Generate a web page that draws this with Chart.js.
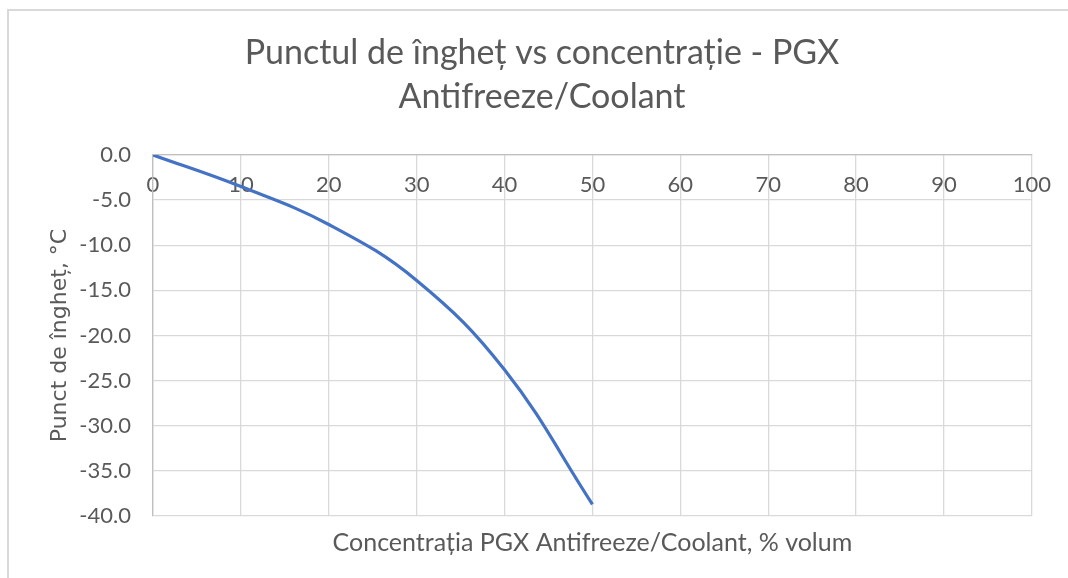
<!DOCTYPE html>
<html>
<head>
<meta charset="utf-8">
<script src="https://cdn.jsdelivr.net/npm/chart.js@4.4.1/dist/chart.umd.min.js"></script>
<style>
  html, body { margin: 0; padding: 0; background: #fff; overflow: hidden; }
  #wrap { position: relative; width: 1068px; height: 578px; }
  #frame {
    position: absolute; left: 7px; top: 9px; right: -10px; bottom: -10px;
    border-left: 2px solid #d9d9d9; border-top: 2px solid #d9d9d9;
  }
  canvas { position: absolute; left: 0; top: 0; }
</style>
</head>
<body>
<div id="wrap">
  <div id="frame"></div>
  <canvas id="myChart" width="1068" height="578"></canvas>
</div>
<script>
// data
let concentration = [0, 10, 20, 30, 40, 50],
  freezePoint = [0, -3.5, -7.7, -13.9, -23.8, -38.7],
  xTickValues = [0, 10, 20, 30, 40, 50, 60, 70, 80, 90, 100],
  yTickValues = [0, -5, -10, -15, -20, -25, -30, -35, -40];

const textColor = "#595959";
const gridColor = "#d9d9d9";
const axisColor = "#bfbfbf";
const narrowFont = "Lato, 'Liberation Sans', sans-serif";

let points = concentration.map((c, i) => ({ x: c, y: freezePoint[i] }));

var ctx = document.getElementById("myChart").getContext("2d");
var myChart = new Chart(ctx, {
  type: "line",
  data: {
    datasets: [
      {
        label: "PGX",
        data: points,
        borderColor: "#4472C4",
        backgroundColor: "#4472C4",
        borderWidth: 3.2,
        pointRadius: 0,
        tension: 0.4,
        fill: false,
      },
    ],
  },
  options: {
    responsive: false,
    animation: false,
    // left/right padding also puts the title centre where the reference has it
    layout: { padding: { left: 51, right: 35, top: 0, bottom: 0 } },
    plugins: {
      legend: { display: false },
      tooltip: { enabled: false },
      title: {
        display: true,
        text: ["Punctul de îngheț vs concentrație - PGX", "Antifreeze/Coolant"],
        color: textColor,
        font: { family: narrowFont, size: 34, weight: "normal", lineHeight: 44 / 34 },
        padding: { top: 31, bottom: 36 },
      },
      subtitle: {
        display: true,
        position: "bottom",
        fullSize: false,
        text: "Concentrația PGX Antifreeze/Coolant, % volum",
        color: textColor,
        font: { family: narrowFont, size: 25, lineHeight: 1.2 },
        padding: { top: 12, bottom: 20 },
      },
    },
    scales: {
      x: {
        type: "linear",
        position: { y: 0 },
        min: 0,
        max: 100,
        afterBuildTicks: (scale) => {
          scale.ticks = xTickValues.map((v) => ({ value: v }));
        },
        ticks: {
          color: textColor,
          padding: 17,
          maxRotation: 0,
          font: { family: narrowFont, size: 22 },
        },
        grid: { color: gridColor, lineWidth: 1.3, drawTicks: false },
        border: { color: axisColor, width: 1.3 },
      },
      y: {
        type: "linear",
        position: "left",
        min: -40,
        max: 0,
        afterFit: (scale) => {
          scale.width = 102;
        },
        afterBuildTicks: (scale) => {
          scale.ticks = yTickValues.map((v) => ({ value: v }));
        },
        ticks: {
          color: textColor,
          padding: 22,
          font: { family: narrowFont, size: 22 },
          callback: (v) => Number(v).toFixed(1),
        },
        grid: { color: gridColor, lineWidth: 1.3, drawTicks: false },
        border: { color: axisColor, width: 1.3 },
        title: {
          display: true,
          text: "Punct de îngheț, °C",
          color: textColor,
          font: { family: "'DejaVu Sans', Verdana, sans-serif", size: 22 },
          padding: { top: -4, bottom: 0 },
        },
      },
    },
  },
});
</script>
</body>
</html>
